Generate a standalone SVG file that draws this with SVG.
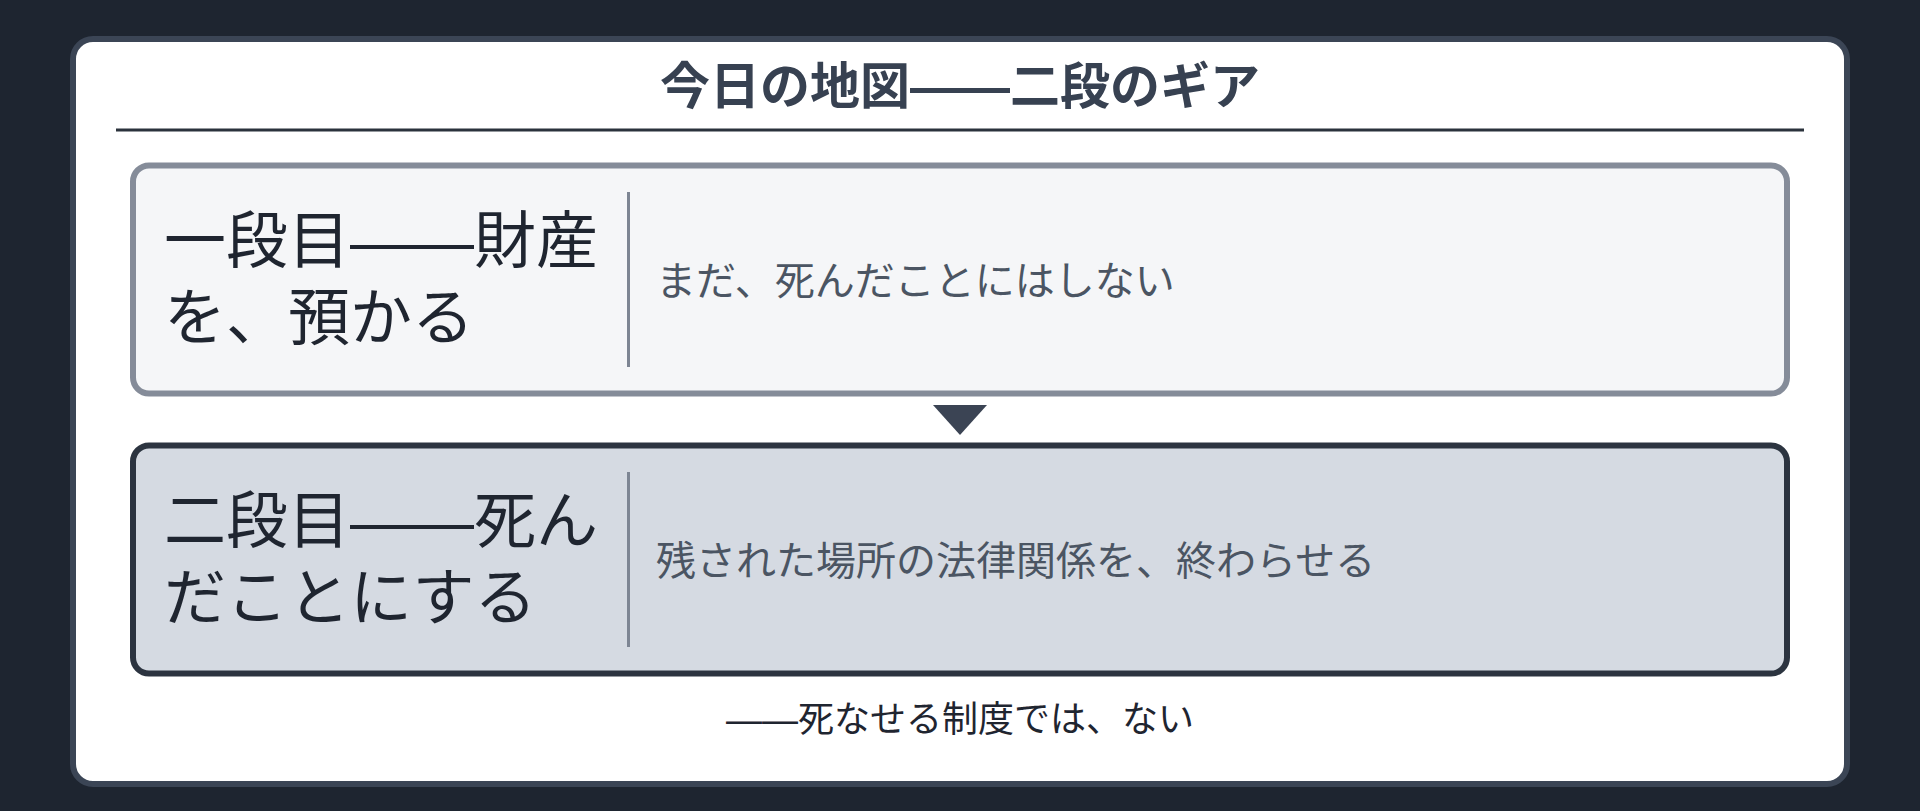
<svg xmlns="http://www.w3.org/2000/svg" width="1920" height="811" viewBox="0 0 1920 811">
<style>
  .cjk { font-family: "Liberation Sans", "Noto Sans CJK JP", "Noto Sans CJK SC", sans-serif; }
  .title { font-size: 50px; font-weight: 700; fill: #374151; }
  .head { font-size: 62px; font-weight: 400; fill: #1f2530; }
  .desc { font-size: 40px; font-weight: 400; fill: #4b5563; }
  .foot { font-size: 36px; font-weight: 400; fill: #1f2530; }
  .divider { stroke: #7d8593; stroke-width: 3; }
  .box1 { fill: #f5f6f8; stroke: #858c99; stroke-width: 6; }
  .box2 { fill: #d5dae2; stroke: #2c3440; stroke-width: 6; }
</style>
<rect x="0" y="0" width="1920" height="811" fill="#1e2530"/>
<g id="card">
  <rect x="73" y="39" width="1774" height="745" rx="20" ry="20" fill="#ffffff" stroke="#3b4555" stroke-width="6"/>
</g>
<g id="title">
  <text class="cjk title" x="960" y="104" text-anchor="middle">今日の地図——二段のギア</text>
  <line x1="116" y1="130" x2="1804" y2="130" stroke="#2b323c" stroke-width="3"/>
</g>
<g id="stage1">
  <rect class="box1" x="133" y="165.5" width="1654" height="228" rx="16" ry="16"/>
  <text class="cjk head"><tspan x="164" y="263">一段目——財産</tspan><tspan x="164" y="340">を、預かる</tspan></text>
  <line class="divider" x1="628.5" y1="192" x2="628.5" y2="367"/>
  <text class="cjk desc" x="656" y="294.5">まだ、死んだことにはしない</text>
</g>
<g id="connectors">
  <polygon points="933,405 987,405 960,435" fill="#3b4454"/>
</g>
<g id="stage2">
  <rect class="box2" x="133" y="445.5" width="1654" height="228" rx="16" ry="16"/>
  <text class="cjk head"><tspan x="164" y="543">二段目——死ん</tspan><tspan x="164" y="620">だことにする</tspan></text>
  <line class="divider" x1="628.5" y1="472" x2="628.5" y2="647"/>
  <text class="cjk desc" x="656" y="574.5">残された場所の法律関係を、終わらせる</text>
</g>
<g id="footer">
  <text class="cjk foot" x="960" y="732" text-anchor="middle">——死なせる制度では、ない</text>
</g>
</svg>
